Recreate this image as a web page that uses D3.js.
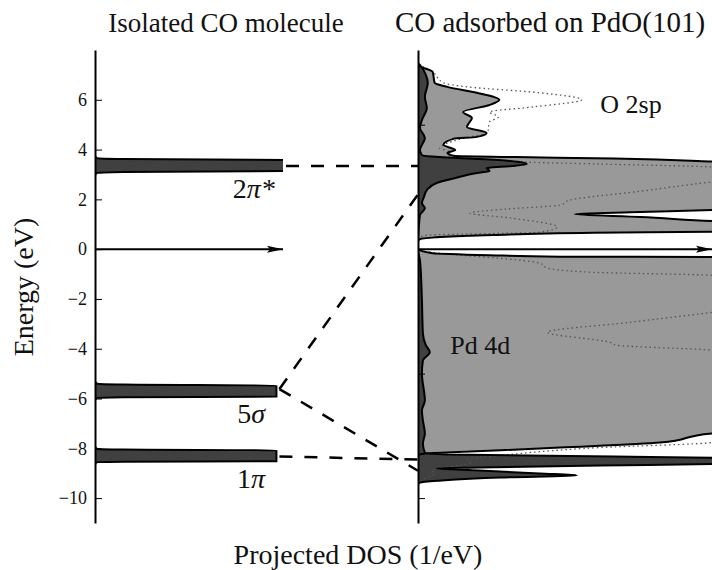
<!DOCTYPE html>
<html>
<head>
<meta charset="utf-8">
<script src="https://cdn.jsdelivr.net/npm/d3@7"></script>
<style>
  body { margin: 0; background: #fff; }
  text { font-family: "Liberation Serif", "DejaVu Serif", serif; fill: #111; }
</style>
</head>
<body>
<div id="chart"></div>
<script>
'use strict';

// energy ticks (eV)
const yTicks = [-10, -8, -6, -4, -2, 0, 2, 4, 6];
const rightTicks = [-10, -5, 0, 5];

// isolated CO levels, [energy, dos]
const level2pi = [[3.76, 0], [3.66, 0.02], [3.62, 0.3], [3.58, 2.1], [3.50, 8], [3.36, 12], [3.22, 8], [3.14, 2.1], [3.10, 0.3], [3.06, 0.02], [2.96, 0]];
const level5sigma = [[-5.30, 0], [-5.40, 0.02], [-5.44, 0.3], [-5.48, 1.93], [-5.56, 1.93], [-5.70, 1.93], [-5.84, 1.93], [-5.92, 1.93], [-5.95, 0.3], [-5.98, 0.02], [-6.08, 0]];
const level1pi = [[-7.92, 0], [-8.02, 0.02], [-8.05, 0.3], [-8.08, 1.93], [-8.16, 1.93], [-8.30, 1.93], [-8.44, 1.93], [-8.52, 1.93], [-8.54, 0.3], [-8.56, 0.02], [-8.66, 0]];
const levelNames = ["2π*", "5σ", "1π"];
const levelEnergies = [3.36, -5.70, -8.30];

// CO on PdO(101): Pd 4d, O 2sp, CO projected DOS, [energy, dos]
const pd4d = [[7.6, 0], [7.40, 0], [7.12, 0.15], [6.68, 0.17], [6.52, 0.30], [6.28, 0.60], [6.12, 0.77], [6.00, 0.83],
  [5.79, 0.73], [5.51, 0.46], [5.27, 0.55], [4.91, 0.50], [4.67, 0.70], [4.51, 0.60], [4.43, 0.36], [4.19, 0.26],
  [3.98, 0.38], [3.86, 0.30], [3.74, 0.38], [3.70, 1.0], [3.64, 2.0], [3.52, 3.0], [3.3, 3.8], [3.0, 4.5], [2.4, 4.5],
  [1.8, 3.8], [1.57, 3.0], [1.49, 2.27], [1.41, 1.6], [1.29, 2.27], [1.13, 3.0], [1.0, 3.8], [0.85, 3.8],
  [0.70, 3.0], [0.66, 1.79], [0.57, 0.77], [0.40, 0.02], [0.32, 0], [0.04, 0], [-0.04, 0.02], [-0.16, 0.15],
  [-0.24, 0.73], [-0.30, 1.45], [-0.32, 3.0], [-0.6, 4.0], [-3.0, 4.5], [-6.0, 4.5], [-7.2, 3.8], [-7.40, 3.0],
  [-7.77, 2.47], [-7.97, 1.45], [-8.13, 0.53], [-8.21, 0.07], [-8.29, 0], [-11, 0]];

const o2sp = [[7.6, 0], [7.48, 0], [7.40, 0.02], [7.12, 0.15], [6.68, 0.26], [6.52, 0.50], [6.28, 1.25], [6.00, 1.67],
  [5.71, 1.17], [5.51, 0.73], [5.31, 0.82], [5.11, 0.73], [4.67, 0.71], [4.47, 0.48], [4.19, 0.26], [4.06, 0.22],
  [3.90, 0.33], [3.78, 0.30], [3.70, 0.43], [3.50, 1.07], [3.42, 1.86], [3.30, 3.0], [3.10, 3.5], [2.90, 3.5],
  [2.70, 3.0], [2.33, 2.28], [1.97, 1.55], [1.77, 1.45], [1.61, 0.9], [1.45, 0.53], [1.25, 0.95], [0.89, 1.42],
  [0.68, 1.24], [0.56, 0.09], [0.44, 0.01], [0.2, 0], [0.0, 0], [-0.04, 0.02], [-0.56, 1.24], [-0.76, 1.32],
  [-0.93, 1.79], [-1.05, 3.0], [-1.3, 3.5], [-2.3, 3.5], [-2.54, 3.0], [-2.94, 2.16], [-3.34, 1.32], [-3.74, 1.96],
  [-3.86, 2.03], [-4.06, 3.0], [-4.5, 3.5], [-7.2, 3.5], [-7.77, 3.0], [-7.97, 1.86], [-8.29, 0.84], [-8.45, 0.5],
  [-8.57, 0.55], [-8.77, 0.28], [-8.89, 0.14], [-9.01, 0.17], [-9.22, 0.07], [-9.46, 0], [-11, 0]];

const coAds = [[7.6, 0], [7.48, 0], [7.40, 0.02], [7.00, 0.08], [6.68, 0.10], [6.12, 0.07], [5.67, 0.09], [5.19, 0.04],
  [4.87, 0.02], [4.47, 0.07], [3.98, 0.02], [3.78, 0.04], [3.70, 0.22], [3.62, 0.63], [3.54, 0.94], [3.42, 1.11],
  [3.34, 0.96], [3.26, 0.70], [3.14, 0.73], [3.06, 0.60], [2.86, 0.38], [2.66, 0.19], [2.37, 0.09], [2.09, 0.06],
  [1.85, 0.04], [1.65, 0.07], [1.37, 0.02], [0.97, 0.01], [0.36, 0], [-0.04, 0], [-0.44, 0.02], [-2.05, 0.04],
  [-3.38, 0.05], [-3.86, 0.08], [-4.14, 0.12], [-4.47, 0.05], [-4.99, 0.04], [-6.08, 0.07], [-6.48, 0.04],
  [-6.88, 0.05], [-7.40, 0.07], [-7.81, 0.05], [-8.17, 0.07], [-8.25, 0.3], [-8.33, 2.0], [-8.39, 3.2], [-8.49, 4.0],
  [-8.57, 3.5], [-8.63, 3.0], [-8.69, 1.86], [-8.77, 0.63], [-8.81, 0.19], [-8.89, 0.63], [-9.01, 1.24],
  [-9.09, 1.62], [-9.17, 0.84], [-9.30, 0.22], [-9.38, 0.02], [-9.46, 0], [-11, 0]];

// correlation lines, [level index, energy left, energy right]
const links = [[0, 3.34, 3.34], [1, -5.62, 2.2], [1, -5.62, -8.9], [2, -8.33, -8.45]];

const W = 712, H = 570;

var svg = d3.select("#chart").append("svg")
    .attr("width", W)
    .attr("height", H);

var y = d3.scaleLinear().domain([-11, 8]).range([523, 50]);
var xL = d3.scaleLinear().domain([0, 2]).range([95, 283]);
var xR = d3.scaleLinear().domain([0, 3]).range([418, 712]);

var levels = [level2pi, level5sigma, level1pi];

var defs = svg.append("defs");
defs.append("clipPath").attr("id", "clipL").append("rect")
    .attr("x", xL(0)).attr("y", y(8)).attr("width", xL(2) - xL(0)).attr("height", y(-11) - y(8));
defs.append("clipPath").attr("id", "clipR").append("rect")
    .attr("x", xR(0)).attr("y", y(8)).attr("width", xR(3) - xR(0)).attr("height", y(-11) - y(8));
defs.append("marker")
    .attr("id", "head")
    .attr("markerUnits", "userSpaceOnUse")
    .attr("markerWidth", 20).attr("markerHeight", 12)
    .attr("refX", 16).attr("refY", 6)
    .attr("orient", "auto")
    .append("path")
    .attr("d", "M0,2.5 L16,6 L0,9.5 L3,6 Z")
    .style("fill", "black");

function dosArea(x) {
    return d3.area().curve(d3.curveMonotoneY)
        .y(function (d) { return y(d[0]); })
        .x0(x(0))
        .x1(function (d) { return x(d[1]); });
}
function dosLine(x) {
    return d3.line().curve(d3.curveMonotoneY)
        .y(function (d) { return y(d[0]); })
        .x(function (d) { return x(d[1]); });
}

// ---- left panel: isolated CO
var left = svg.append("g").attr("clip-path", "url(#clipL)");
levels.forEach(function (lev) {
    left.append("path").datum(lev)
        .attr("d", dosArea(xL))
        .style("fill", "#404040");
    left.append("path").datum(lev)
        .attr("d", dosLine(xL))
        .style("fill", "none")
        .style("stroke", "black")
        .style("stroke-width", "2px");
});

svg.append("line")
    .attr("x1", xL(0)).attr("x2", xL(2))
    .attr("y1", y(0)).attr("y2", y(0))
    .style("stroke", "black").style("stroke-width", "2px")
    .attr("marker-end", "url(#head)");

// ---- right panel: adsorbed CO
var right = svg.append("g").attr("clip-path", "url(#clipR)");
right.append("path").datum(pd4d)
    .attr("d", dosArea(xR))
    .style("fill", "#999999");
right.append("path").datum(coAds)
    .attr("d", dosArea(xR))
    .style("fill", "#404040");
right.append("path").datum(o2sp)
    .attr("d", dosLine(xR))
    .style("fill", "none")
    .style("stroke", "#555")
    .style("stroke-width", "1.3px")
    .style("stroke-dasharray", "1.5,3");
right.append("path").datum(pd4d)
    .attr("d", dosLine(xR))
    .style("fill", "none")
    .style("stroke", "black")
    .style("stroke-width", "2px")
    .style("stroke-linejoin", "round");
right.append("path").datum(coAds)
    .attr("d", dosLine(xR))
    .style("fill", "none")
    .style("stroke", "black")
    .style("stroke-width", "2px")
    .style("stroke-linejoin", "round");

svg.append("line")
    .attr("x1", xR(0)).attr("x2", xR(3))
    .attr("y1", y(0)).attr("y2", y(0))
    .style("stroke", "black").style("stroke-width", "2px")
    .attr("marker-end", "url(#head)");

// ---- correlation lines
svg.selectAll(".link")
    .data(links)
    .enter().append("line")
    .attr("class", "link")
    .attr("x1", function (d) {
        var top = Math.min(d3.max(levels[d[0]], function (p) { return p[1]; }), 2);
        return xL(top) + 3;
    })
    .attr("y1", function (d) { return y(d[1]); })
    .attr("x2", xR(0))
    .attr("y2", function (d) { return y(d[2]); })
    .style("stroke", "black")
    .style("stroke-width", "2.5px")
    .style("stroke-dasharray", "13,12");

// ---- axes
var axL = d3.axisLeft(y)
    .tickValues(yTicks)
    .tickSizeInner(-7)
    .tickSizeOuter(0)
    .tickPadding(8)
    .tickFormat(d3.format("d"));
var gL = svg.append("g")
    .attr("transform", "translate(" + xL(0) + ",0)")
    .call(axL);

var axR = d3.axisLeft(y)
    .tickValues(rightTicks)
    .tickSizeInner(-7)
    .tickSizeOuter(0)
    .tickFormat("");
var gR = svg.append("g")
    .attr("transform", "translate(" + xR(0) + ",0)")
    .call(axR);

[gL, gR].forEach(function (g) {
    g.select(".domain").style("stroke-width", "2px").style("stroke", "black");
    g.selectAll(".tick line").style("stroke-width", "1px").style("stroke", "black");
    g.selectAll(".tick text")
        .style("font-family", "Liberation Serif")
        .style("font-size", "18px")
        .style("fill", "#111");
});

// ---- labels
svg.selectAll(".lev")
    .data(levelNames)
    .enter().append("text")
    .attr("class", "lev")
    .attr("x", function (d, i) { return i === 0 ? xL(1.69) : xL(1.66); })
    .attr("y", function (d, i) { return y(levelEnergies[i]) + 32; })
    .attr("text-anchor", "middle")
    .style("font-size", "28px")
    .each(function (d) {
        var t = d3.select(this);
        t.append("tspan").text(d[0]);
        t.append("tspan").style("font-style", "italic").text(d.slice(1));
    });

svg.append("text")
    .attr("x", xR(1.86)).attr("y", y(5.45))
    .style("font-size", "26px")
    .text("O 2sp");
svg.append("text")
    .attr("x", xR(0.33)).attr("y", y(-4.2))
    .style("font-size", "26px")
    .text("Pd 4d");

svg.append("text")
    .attr("x", 226).attr("y", 32)
    .attr("text-anchor", "middle")
    .style("font-size", "27px")
    .text("Isolated CO molecule");
svg.append("text")
    .attr("x", 550).attr("y", 32)
    .attr("text-anchor", "middle")
    .style("font-size", "29px")
    .text("CO adsorbed on PdO(101)");

svg.append("text")
    .attr("transform", "translate(33,287) rotate(-90)")
    .attr("text-anchor", "middle")
    .style("font-size", "28px")
    .text("Energy (eV)");
svg.append("text")
    .attr("x", 358).attr("y", 564)
    .attr("text-anchor", "middle")
    .style("font-size", "28px")
    .text("Projected DOS (1/eV)");
</script>
</body>
</html>
